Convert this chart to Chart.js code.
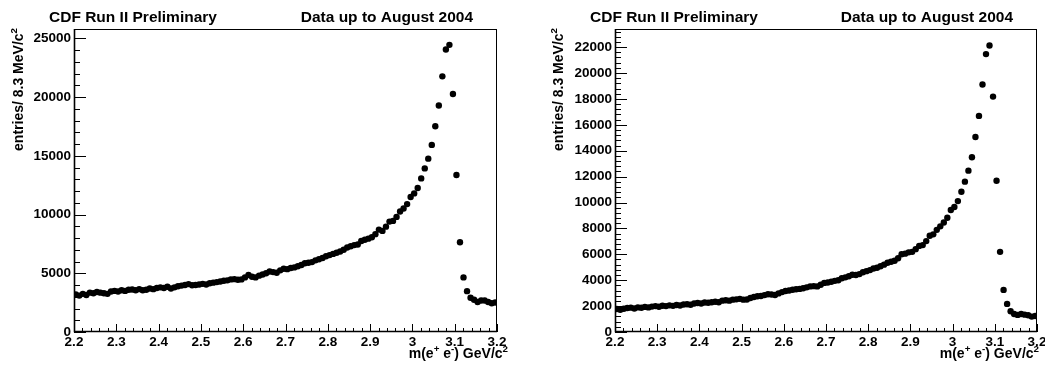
<!DOCTYPE html>
<html>
<head>
<meta charset="utf-8">
<script src="https://cdn.jsdelivr.net/npm/chart.js@4.4.1/dist/chart.umd.min.js"></script>
<style>
    html, body { margin: 0; padding: 0; background: #fff; }
    #wrap { position: relative; width: 1045px; height: 365px; overflow: hidden; }
    .pad { position: absolute; top: 0; }
</style>
</head>
<body>
<div id="wrap">
    <canvas id="left-pad" class="pad" width="522" height="365" style="left:0"></canvas>
    <canvas id="right-pad" class="pad" width="523" height="365" style="left:522px"></canvas>
</div>
<script>
// histogram binning: 120 bins of 8.3 MeV between 2.2 and 3.2 GeV
var massMin = 2.2;
var massMax = 3.2;
var nBins = 120;

// x axis tick values and labels
var xTickValues = [2.2, 2.3, 2.4, 2.5, 2.6, 2.7, 2.8, 2.9, 3.0, 3.1, 3.2];
var xTickLabels = ['2.2', '2.3', '2.4', '2.5', '2.6', '2.7', '2.8', '2.9', '3', '3.1', '3.2'];

// left pad y ticks
var leftYTicks = [0, 5000, 10000, 15000, 20000, 25000];
var leftYMax = 25800;

// right pad y ticks
var rightYTicks = [0, 2000, 4000, 6000, 8000, 10000, 12000, 14000, 16000, 18000, 20000, 22000];
var rightYMax = 23400;

// entries per bin, left pad
var leftEntries = [
    3200, 3100, 3250, 3150, 3350, 3300, 3400, 3350, 3300, 3250,
    3450, 3500, 3450, 3550, 3500, 3600, 3620, 3550, 3650, 3560,
    3600, 3700, 3650, 3750, 3800, 3750, 3850, 3700, 3800, 3900,
    3950, 4000, 4080, 3980, 4000, 4050, 4100, 4050, 4150, 4200,
    4250, 4300, 4360, 4400, 4480, 4500, 4450, 4480, 4650, 4850,
    4700, 4650, 4800, 4900, 5000, 5150, 5100, 5050, 5250, 5380,
    5350, 5450, 5500, 5600, 5700, 5850, 5900, 5950, 6100, 6200,
    6300, 6450, 6550, 6650, 6750, 6850, 7000, 7200, 7300, 7400,
    7450, 7750, 7850, 7950, 8070, 8330, 8720, 8610, 8970, 9400,
    9460, 9800, 10260, 10510, 10890, 11490, 11800, 12260, 13080, 13930,
    14760, 15930, 17520, 19290, 21770, 24050, 24450, 20260, 13370, 7640,
    4650, 3480, 2910, 2740, 2560, 2680, 2680, 2560, 2450, 2510
];

// entries per bin, right pad
var rightEntries = [
    1780, 1720, 1800, 1850, 1880, 1820, 1900, 1870, 1940, 1900,
    1960, 2000, 1950, 2030, 2000, 2060, 2020, 2080, 2050, 2120,
    2140, 2100, 2200, 2240, 2200, 2280, 2260, 2300, 2340, 2300,
    2420, 2450, 2420, 2500, 2520, 2560, 2500, 2510, 2620, 2700,
    2760, 2780, 2850, 2920, 2900, 2860, 2980, 3080, 3170, 3200,
    3260, 3300, 3330, 3380, 3450, 3520, 3540, 3520, 3650, 3790,
    3820, 3880, 3950, 4000, 4150, 4220, 4310, 4420, 4400, 4470,
    4620, 4700, 4780, 4900, 4960, 5080, 5200, 5350, 5420, 5500,
    5700, 6000, 6050, 6150, 6190, 6400, 6650, 6710, 7020, 7430,
    7540, 7890, 8160, 8460, 8820, 9420, 9650, 10110, 10830, 11610,
    12460, 13490, 15060, 16690, 19110, 21460, 22130, 18180, 11680, 6190,
    3250, 2170, 1600, 1390, 1320, 1390, 1340, 1290, 1190, 1240
];

var FONT = '"Liberation Sans", Arial, Helvetica, sans-serif';

Chart.defaults.font.family = FONT;
Chart.defaults.color = '#000';

// bin centres of the histogram
function binCenters() {
    var w = (massMax - massMin) / nBins;
    var c = [];
    for (var i = 0; i < nBins; i++) {
        c.push(massMin + (i + 0.5) * w);
    }
    return c;
}

// draw a string made of normal and superscript pieces
function richWidth(ctx, parts, size) {
    var w = 0;
    parts.forEach(function(p) {
        ctx.font = 'bold ' + (p.sup ? size * 0.7 : size) + 'px ' + FONT;
        w += ctx.measureText(p.t).width;
    });
    return w;
}

function drawRich(ctx, parts, x, y, size) {
    parts.forEach(function(p) {
        var s = p.sup ? size * 0.7 : size;
        ctx.font = 'bold ' + s + 'px ' + FONT;
        ctx.fillText(p.t, x, p.sup ? y - size * 0.42 : y);
        x += ctx.measureText(p.t).width;
    });
}

var xTitleParts = [
    { t: 'm(e' }, { t: '+', sup: true }, { t: ' e' }, { t: '-', sup: true }, { t: ') GeV/c' }, { t: '2', sup: true }
];
var yTitleParts = [
    { t: 'entries/ 8.3 MeV/c' }, { t: '2', sup: true }
];

// ROOT style frame, inward ticks and the pad texts
var rootPad = {
    id: 'rootPad',
    afterDraw: function(chart, args, opts) {
        var ctx = chart.ctx;
        var a = chart.chartArea;
        var xs = chart.scales.x;
        var ys = chart.scales.y;
        ctx.save();

        // frame
        ctx.strokeStyle = '#000';
        ctx.lineWidth = 1;
        ctx.strokeRect(a.left + 0.5, a.top + 0.5, a.right - a.left - 1, a.bottom - a.top - 1);
        ctx.lineWidth = 1.6;
        ctx.beginPath();
        ctx.moveTo(a.left + 0.5, a.top);
        ctx.lineTo(a.left + 0.5, a.bottom - 0.5);
        ctx.lineTo(a.right, a.bottom - 0.5);
        ctx.stroke();

        // y ticks
        ctx.lineWidth = 1;
        ctx.beginPath();
        var ny = Math.floor((ys.max - ys.min) / opts.yMinor + 1e-6);
        for (var k = 0; k <= ny; k++) {
            var py = Math.round(ys.getPixelForValue(ys.min + k * opts.yMinor)) + 0.5;
            var len = (k % 5 === 0) ? 12 : 6;
            ctx.moveTo(a.left, py);
            ctx.lineTo(a.left + len, py);
        }
        // x ticks
        var nx = Math.round((xs.max - xs.min) / opts.xMinor);
        for (var j = 0; j <= nx; j++) {
            var px = Math.round(xs.getPixelForValue(xs.min + j * opts.xMinor)) + 0.5;
            var lx = (j % 5 === 0) ? 8 : 4;
            ctx.moveTo(px, a.bottom);
            ctx.lineTo(px, a.bottom - lx);
        }
        ctx.stroke();

        // header texts
        ctx.fillStyle = '#000';
        ctx.textBaseline = 'alphabetic';
        ctx.font = 'bold 15.5px ' + FONT;
        ctx.textAlign = 'left';
        ctx.fillText('CDF Run II Preliminary', a.left - 25, 22);
        ctx.textAlign = 'right';
        ctx.fillText('Data up to August 2004', a.right - 24, 22);

        // x axis title, right aligned
        ctx.textAlign = 'left';
        var xw = richWidth(ctx, xTitleParts, 14);
        drawRich(ctx, xTitleParts, a.right + opts.xTitleShift - xw, 358, 14);

        // y axis title, rotated and aligned with the top of the frame
        var yw = richWidth(ctx, yTitleParts, 14);
        ctx.translate(opts.yTitleX, a.top - 1);
        ctx.rotate(-Math.PI / 2);
        drawRich(ctx, yTitleParts, -yw, 0, 14);

        ctx.restore();
    }
};

function makePad(canvasId, entries, yTicks, yMax, padOpts) {
    var centers = binCenters();
    var points = entries.map(function(n, i) {
        return { x: centers[i], y: n };
    });
    var tickFont = { size: 13.5, weight: 'bold' };

    return new Chart(document.getElementById(canvasId), {
        type: 'scatter',
        data: {
            datasets: [{
                data: points,
                pointRadius: 3.2,
                pointBackgroundColor: '#000',
                pointBorderWidth: 0,
                showLine: false
            }]
        },
        options: {
            responsive: false,
            animation: false,
            events: [],
            layout: { padding: { left: 0, right: padOpts.padRight, top: 29, bottom: 0 } },
            plugins: {
                legend: { display: false },
                tooltip: { enabled: false },
                rootPad: padOpts
            },
            scales: {
                x: {
                    type: 'linear',
                    min: massMin,
                    max: massMax,
                    grid: { display: false, drawTicks: false },
                    border: { display: false },
                    afterBuildTicks: function(s) {
                        s.ticks = xTickValues.map(function(v) { return { value: v }; });
                    },
                    afterFit: function(s) {
                        s.height = 33;
                        s.paddingLeft = 0;
                        s.paddingRight = 0;
                    },
                    ticks: {
                        callback: function(v, i) { return xTickLabels[i]; },
                        padding: 2,
                        maxRotation: 0,
                        autoSkip: false,
                        font: tickFont,
                        color: '#000'
                    }
                },
                y: {
                    type: 'linear',
                    min: 0,
                    max: yMax,
                    grid: { display: false, drawTicks: false },
                    border: { display: false },
                    afterBuildTicks: function(s) {
                        s.ticks = yTicks.map(function(v) { return { value: v }; });
                    },
                    afterFit: function(s) {
                        s.width = padOpts.axisLeft;
                        s.paddingTop = 0;
                        s.paddingBottom = 0;
                    },
                    ticks: {
                        callback: function(v, i) { return String(yTicks[i]); },
                        padding: 3,
                        autoSkip: false,
                        font: tickFont,
                        color: '#000'
                    }
                }
            }
        },
        plugins: [rootPad]
    });
}

var leftChart = makePad('left-pad', leftEntries, leftYTicks, leftYMax, {
    axisLeft: 74, padRight: 25, yMinor: 1000, xMinor: 0.02, yTitleX: 23, xTitleShift: 11
});
var rightChart = makePad('right-pad', rightEntries, rightYTicks, rightYMax, {
    axisLeft: 93, padRight: 8, yMinor: 400, xMinor: 0.02, yTitleX: 41, xTitleShift: 2
});
</script>
</body>
</html>
